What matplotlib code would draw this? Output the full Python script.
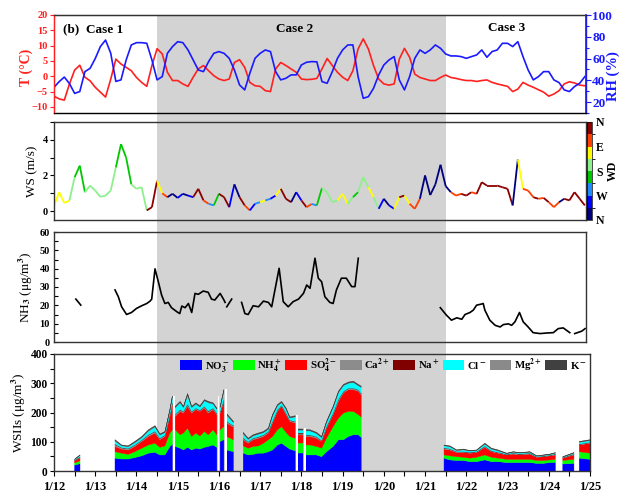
import matplotlib
matplotlib.use('Agg')
import numpy as np
import matplotlib.pyplot as plt
import matplotlib.colorbar as mcolorbar
import matplotlib.transforms as mtransforms
from matplotlib.collections import LineCollection
from matplotlib.colors import ListedColormap, BoundaryNorm
from matplotlib.patches import Rectangle, Patch
from matplotlib.ticker import MultipleLocator

plt.rcParams['font.family'] = ['Liberation Serif', 'DejaVu Serif']
plt.rcParams['font.weight'] = 'bold'
plt.rcParams['mathtext.fontset'] = 'stix'
plt.rcParams['mathtext.default'] = 'bf'

nan = np.nan

# ---- meteorology, 3-hourly from 1/12 00:00 ----
t3 = np.arange(104) * 0.125 + 12.0

temp = [-6.5, -7.4, -7.8, -2.5, 2.0, 3.6, -0.3, -1.5,
        -3.6, -5.2, -6.8, -1.0, 5.6, 4.0, 2.9, 1.8,
        -0.4, -2.0, -3.3, 3.5, 9.0, 7.3, 1.3, -1.4,
        -1.4, -2.5, -3.3, -0.3, 2.4, 3.5, 1.8, 0.2,
        -0.9, -1.4, -0.9, 4.5, 5.4, 2.9, -2.0, -3.1,
        -3.3, -4.7, -5.0, 2.4, 4.5, 3.5, 2.4, 1.3,
        -0.9, -1.1, -1.0, -0.7, 2.4, 5.8, 3.5, 1.3,
        -0.3, -1.4, 1.8, 8.9, 12.2, 8.9, 3.5, -0.9,
        -2.5, -2.9, -2.5, 5.6, 9.1, 6.2, 0.7, -0.4,
        -0.9, -1.4, -1.4, -0.4, 0.4, -0.4, -0.7, -1.1,
        -1.4, -1.4, -1.7, -1.4, -1.2, -2.0, -2.5, -2.9,
        -3.3, -5.0, -4.2, -2.0, -2.9, -3.6, -4.4, -5.2,
        -6.5, -5.8, -4.7, -2.5, -1.8, -2.2, -2.9, -3.1]

rh = [33.6, 38.8, 43.0, 37.0, 28.0, 29.7, 48.0, 51.0,
      60.0, 71.0, 77.0, 65.0, 39.0, 40.4, 58.7, 72.5,
      74.6, 74.6, 74.0, 58.7, 40.4, 43.4, 64.8, 71.0,
      75.5, 74.6, 67.9, 58.7, 49.5, 48.0, 57.2, 64.8,
      66.4, 64.8, 60.2, 49.5, 35.8, 31.2, 46.5, 60.2,
      64.8, 67.9, 66.4, 48.0, 40.4, 41.9, 45.0, 45.0,
      54.1, 56.6, 57.2, 57.0, 38.8, 37.3, 48.0, 60.2,
      67.9, 72.5, 72.5, 43.4, 23.5, 25.0, 32.7, 45.0,
      54.1, 58.7, 61.8, 40.4, 31.2, 43.4, 60.2, 67.9,
      64.8, 67.9, 72.5, 69.4, 64.2, 62.4, 62.4, 61.8,
      60.2, 61.8, 63.3, 67.9, 61.2, 66.4, 67.9, 74.0,
      74.0, 71.0, 75.5, 61.8, 49.5, 40.4, 43.4, 48.0,
      48.0, 40.4, 37.9, 31.2, 29.7, 34.3, 37.3, 43.4]

ws = [0.3, 1.06, 0.45, 0.6, 1.9, 2.55, 1.06, 1.43,
      1.15, 0.8, 0.87, 1.15, 2.45, 3.76, 3.0, 1.5,
      1.25, 1.34, 0.04, 0.22, 1.7, 1.0, 0.78, 0.97,
      0.74, 0.97, 0.87, 0.78, 1.25, 0.6, 0.41, 0.32,
      0.97, 0.78, 0.22, 1.5, 0.78, 0.32, 0.04, 0.41,
      0.5, 0.6, 0.69, 0.87, 1.25, 0.69, 0.5, 1.06,
      0.6, 0.22, 0.4, 0.32, 1.3, 1.06, 0.5, 0.6,
      0.97, 0.41, 0.78, 1.06, 1.9, 1.34, 0.78, 0.13,
      0.69, 0.32, 0.13, 0.78, 0.87, 0.41, 0.13, 0.69,
      2.0, 0.9, 1.5, 2.6, 1.4, 1.06, 0.87, 0.97,
      0.87, 1.06, 0.97, 1.62, 1.43, 1.43, 1.43, 1.34,
      1.25, 0.32, 2.9, 1.25, 1.15, 0.78, 0.69, 0.74,
      0.5, 0.22, 0.5, 0.69, 0.6, 1.06, 0.69, 0.32]

# wind direction class (0 = N ... 7 = N, colour bins of the WD bar)
wd = [5, 5, 5, 4, 3, 3, 4, 4,
      4, 4, 4, 4, 3, 3, 3, 4,
      4, 4, 7, 7, 5, 6, 0, 0,
      1, 0, 1, 7, 7, 6, 2, 3,
      7, 7, 1, 0, 7, 6, 1, 2,
      5, 2, 1, 5, 7, 7, 0, 1,
      7, 6, 2, 3, 4, 4, 4, 5,
      5, 4, 3, 4, 4, 5, 4, 1,
      0, 1, 5, 7, 5, 6, 6, 0,
      0, 0, 0, 0, 0, 6, 6, 7,
      7, 6, 7, 7, 7, 7, 7, 7,
      7, 0, 5, 6, 6, 7, 6, 7,
      6, 6, 0, 7, 7, 7, 7, 1]
wd_colors = ['#00007f', '#0000ff', '#1e8cff', '#00c800',
             '#8cf08c', '#ffff00', '#ff4000', '#8b0000']
wd_labels = ['N', 'W', 'S', 'E', 'N']

# ---- NH3 ----
t_nh3 = [12.53, 12.60, 12.65, 12.70,
         13.48, 13.56, 13.64, 13.76, 13.88, 14.00, 14.13, 14.25, 14.33, 14.37,
         14.45, 14.53, 14.61, 14.69, 14.77, 14.85, 14.98, 15.05, 15.10, 15.18,
         15.26, 15.34, 15.42, 15.50, 15.62, 15.74, 15.82, 15.90, 16.03, 16.11,
         16.15, 16.17,
         16.19, 16.31, 16.40,
         16.55, 16.63, 16.71, 16.83, 16.96, 17.08, 17.20, 17.28, 17.46, 17.56,
         17.68, 17.80, 17.93, 18.05, 18.13, 18.21, 18.33, 18.41, 18.49, 18.57,
         18.69, 18.77, 18.85, 18.97, 19.09, 19.22, 19.30, 19.38, 19.45,
         21.37, 21.52, 21.64, 21.77, 21.89, 21.97, 22.09, 22.17, 22.25, 22.37,
         22.41, 22.45, 22.57, 22.70, 22.82, 22.90, 23.02, 23.10, 23.18, 23.29,
         23.38, 23.50, 23.62, 23.79, 23.95, 24.11, 24.23, 24.35, 24.51, 24.58,
         24.63, 24.80, 24.88]
nh3 = [23.4, 21.5, 20.1, nan,
       28.4, 24.7, 19.2, 15.0, 16.1, 18.3, 19.8, 21.0, 22.3, 23.4,
       39.9, 32.9, 25.6, 21.0, 21.6, 18.7, 16.5, 15.5, 19.6, 18.7,
       21.0, 16.1, 26.5, 26.0, 27.8, 27.1, 23.4, 22.9, 26.5, 23.4,
       21.6, nan,
       19.2, 23.4, nan,
       21.6, 15.5, 15.0, 19.8, 19.2, 22.3, 21.6, 19.2, 40.2, 22.0,
       19.2, 22.0, 23.4, 26.5, 31.1, 29.3, 45.7, 34.8, 32.9, 24.7,
       21.6, 21.0, 28.4, 34.8, 34.8, 30.2, 30.2, 45.7, nan,
       18.7, 14.6, 11.9, 13.2, 12.4, 15.0, 16.1, 17.4, 20.1, 20.7,
       21.0, 17.4, 11.9, 9.1, 8.2, 9.5, 9.9, 9.1, 11.0, 16.1,
       11.0, 8.2, 5.1, 4.6, 4.9, 5.1, 7.3, 7.7, 5.1, nan,
       4.6, 5.9, 7.3]

# ---- water-soluble inorganic ions (ug/m3) ----
t_ion = [12.50, 12.63, 12.64,
         13.48, 13.64, 13.80, 13.96, 14.13, 14.29, 14.45, 14.57, 14.69, 14.81,
         14.87, 14.88,
         14.94, 15.06, 15.14, 15.24, 15.34, 15.44, 15.54, 15.65, 15.74, 15.86,
         15.95, 15.96,
         16.03, 16.12, 16.14,
         16.19, 16.35, 16.36,
         16.59, 16.71, 16.83, 16.96, 17.08, 17.20, 17.30, 17.42, 17.52, 17.63,
         17.72, 17.85, 17.86,
         17.93, 18.05, 18.06,
         18.11, 18.21, 18.37, 18.49, 18.61, 18.77, 18.90, 19.02, 19.14, 19.26,
         19.38, 19.45, 19.46,
         21.46, 21.60, 21.77, 21.93, 22.09, 22.25, 22.45, 22.61, 22.77, 22.98,
         23.14, 23.30, 23.54, 23.71, 23.87, 24.03, 24.16, 24.17,
         24.34, 24.61, 24.62,
         24.74, 25.00]
no3 = [20, 25, nan,
       44, 41, 41, 46, 52, 61, 64, 55, 55, 84,
       90, nan,
       84, 78, 72, 81, 72, 78, 75, 81, 84, 89,
       81, nan,
       101, 107, nan,
       72, 66, nan,
       61, 55, 57, 61, 61, 66, 72, 89, 95, 84,
       75, 69, nan,
       61, 61, nan,
       55, 55, 55, 49, 66, 84, 107, 107, 118, 124,
       124, 115, nan,
       44, 38, 36, 36, 32, 32, 38, 32, 32, 29,
       29, 29, 29, 26, 26, 29, 29, nan,
       24, 26, nan,
       44, 40]
nh4 = [8, 10, nan,
       22, 20, 16, 20, 26, 28, 31, 26, 31, 46,
       50, nan,
       57, 46, 58, 66, 46, 52, 45, 54, 40, 52,
       43, nan,
       40, 45, nan,
       46, 41, nan,
       25, 23, 27, 25, 34, 41, 46, 52, 57, 48,
       43, 43, nan,
       34, 34, nan,
       34, 34, 29, 29, 46, 68, 74, 91, 86, 80,
       69, 70, nan,
       11, 14, 13, 11, 12, 15, 17, 15, 12, 11,
       11, 11, 11, 10, 10, 9, 11, nan,
       12, 14, nan,
       22, 21]
so4 = [7, 10, nan,
       18, 14, 15, 18, 23, 29, 35, 26, 32, 57,
       85, nan,
       46, 80, 68, 74, 80, 80, 84, 80, 74, 69,
       69, nan,
       57, 86, nan,
       46, 43, nan,
       21, 17, 23, 26, 23, 23, 46, 63, 69, 61,
       52, 52, nan,
       29, 29, nan,
       29, 29, 28, 23, 35, 41, 57, 69, 74, 74,
       80, 75, nan,
       20, 20, 14, 16, 17, 16, 26, 19, 17, 15,
       18, 15, 18, 11, 13, 14, 15, nan,
       8, 15, nan,
       23, 34]
ca = [1, 2, nan,
      6, 4, 4, 4, 4, 5, 5, 4, 4, 4,
      5, nan,
      5, 5, 4, 6, 4, 4, 3, 5, 5, 4,
      4, nan,
      4, 5, nan,
      5, 4, nan,
      5, 4, 4, 4, 4, 4, 5, 4, 3, 4,
      3, 4, nan,
      4, 4, nan,
      4, 4, 4, 3, 4, 4, 5, 4, 4, 4,
      4, 4, nan,
      3, 3, 2, 2, 2, 2, 3, 2, 2, 1,
      2, 2, 2, 1, 1, 1, 2, nan,
      1, 2, nan,
      2, 2]
na = [1, 1, nan,
      2, 1, 1, 1, 1, 1, 1, 1, 1, 1,
      1, nan,
      1, 1, 1, 2, 1, 1, 1, 1, 2, 1,
      1, nan,
      1, 2, nan,
      1, 1, nan,
      1, 1, 1, 1, 1, 1, 1, 1, 1, 1,
      1, 1, nan,
      1, 1, nan,
      1, 1, 1, 1, 1, 1, 2, 1, 1, 1,
      1, 1, nan,
      1, 1, 1, 1, 1, 1, 1, 1, 1, 1,
      1, 1, 1, 1, 1, 1, 1, nan,
      1, 1, nan,
      1, 1]
cl = [2, 5, nan,
      11, 6, 6, 8, 8, 12, 14, 11, 8, 14,
      20, nan,
      23, 23, 14, 30, 14, 14, 11, 19, 28, 14,
      13, nan,
      14, 28, nan,
      21, 11, nan,
      14, 8, 8, 9, 8, 8, 18, 14, 9, 13,
      7, 15, nan,
      10, 10, nan,
      14, 14, 11, 9, 14, 19, 23, 20, 17, 20,
      14, 21, nan,
      7, 7, 4, 6, 4, 4, 7, 6, 5, 2,
      3, 3, 3, 1, 2, 2, 3, nan,
      1, 3, nan,
      6, 6]
mg = [0.5, 1, nan,
      1, 1, 1, 1, 1, 2, 2, 1, 1, 1,
      2, nan,
      2, 2, 1, 2, 1, 1, 1, 1, 2, 1,
      1, nan,
      1, 2, nan,
      2, 1, nan,
      2, 1, 1, 1, 1, 1, 2, 1, 1, 1,
      1, 2, nan,
      1, 1, nan,
      1, 1, 1, 1, 1, 1, 2, 1, 1, 1,
      1, 1, nan,
      1, 1, 1, 1, 1, 1, 1, 1, 1, 1,
      1, 1, 1, 1, 1, 1, 1, nan,
      1, 1, nan,
      1, 1]
k = [0.5, 1, nan,
     3, 2, 2, 3, 3, 3, 3, 3, 3, 3,
     3, nan,
     3, 3, 3, 4, 3, 3, 3, 3, 3, 3,
     3, nan,
     3, 3, nan,
     3, 3, nan,
     3, 3, 3, 3, 3, 3, 3, 3, 3, 3,
     3, 3, nan,
     3, 3, nan,
     3, 3, 3, 3, 3, 3, 3, 3, 3, 3,
     3, 3, nan,
     2, 2, 1, 2, 1, 1, 2, 2, 2, 1,
     1, 1, 1, 1, 1, 1, 1, nan,
     1, 1, nan,
     2, 2]
ion_names = ['NO$_3^-$', 'NH$_4^+$', 'SO$_4^{2-}$', 'Ca$^{2+}$',
             'Na$^+$', 'Cl$^-$', 'Mg$^{2+}$', 'K$^-$']
ion_colors = ['#0000ff', '#00ff00', '#ff0000', '#8c8c8c',
              '#800000', '#00ffff', '#8a8a8a', '#404040']

# missing samples drawn as white strips
gap_days = [14.905, 15.99, 16.165, 17.89, 18.08]
gap_tops = [256, 256, 280, 193, 147]

day_ticks = list(range(12, 26))
day_labels = ['1/%d' % d for d in day_ticks]

# ---------------- figure ----------------
W, H = 620, 503
fig = plt.figure(figsize=(W / 100, H / 100), dpi=100)


def px_axes(l, t, r, b):
    return fig.add_axes([l / W, 1 - b / H, (r - l) / W, (b - t) / H])


ax1 = px_axes(54, 15, 586, 113)
ax2 = px_axes(54, 122, 586, 220)
ax3 = px_axes(54, 232, 586, 342)
ax4 = px_axes(54, 354, 590, 471)
cax = px_axes(587, 122, 592, 220)

edge = '#333333'
for ax in (ax1, ax2, ax3, ax4):
    ax.patch.set_facecolor('none')
    for s in ax.spines.values():
        s.set_color(edge)
        s.set_linewidth(1.0)
for ax in (ax1, ax2, ax3):
    ax.set_xlim(12, 12 + 532 / 41.23)
    ax.set_xticks([])
ax4.set_xlim(12, 25)

# shaded Case 2 period across all panels
blend = mtransforms.blended_transform_factory(ax4.transData, fig.transFigure)
fig.add_artist(Rectangle((14.5, 1 - 471 / H), 7.0, (471 - 15) / H,
                         transform=blend, facecolor='#d3d3d3',
                         edgecolor='none', zorder=-1))

# panel 1: T and RH
ax1.plot(t3, temp, color='#ff2020', lw=1.2)
ax1.set_ylim(-12, 20)
ax1.yaxis.set_major_locator(MultipleLocator(5))
ax1.tick_params(axis='y', colors='#ff2020', labelsize=7.5, direction='out',
                length=3, width=0.8, pad=1.5)
ax1.spines['left'].set_color('#ff2020')
ax1r = ax1.twinx()
ax1r.plot(t3, rh, color='#1a1aff', lw=1.2)
ax1r.set_ylim(10, 100)
ax1r.yaxis.set_major_locator(MultipleLocator(20))
ax1r.yaxis.set_minor_locator(MultipleLocator(10))
ax1r.tick_params(axis='y', which='both', colors='#1a1aff', labelsize=9.5,
                 direction='out', width=0.8, pad=1)
ax1r.tick_params(axis='y', which='major', length=3.5)
ax1r.tick_params(axis='y', which='minor', length=2)
ax1r.spines['right'].set_color('#1a1aff')
ax1r.spines['right'].set_linewidth(1.2)
ax1r.spines['left'].set_color('#ff2020')
ax1r.spines['top'].set_color(edge)
fig.text(26 / W, 1 - 67 / H, 'T (\u00b0C)', color='#ff2020', fontsize=10,
         rotation=90, ha='center', va='center')
fig.text(613 / W, 1 - 76 / H, 'RH (%)', color='#1a1aff', fontsize=10.5,
         rotation=90, ha='center', va='center')
fig.text(63 / W, 1 - 29 / H, '(b)  Case 1', fontsize=9.5, ha='left', va='center')
fig.text(295 / W, 1 - 29 / H, 'Case 2', fontsize=9.5, ha='center', va='center')
fig.text(507 / W, 1 - 28 / H, 'Case 3', fontsize=9.5, ha='center', va='center')

# panel 2: WS coloured by WD
cmap = ListedColormap(wd_colors)
pts = np.column_stack([t3, ws])
segs = np.stack([pts[:-1], pts[1:]], axis=1)
lc = LineCollection(segs, colors=[wd_colors[c] for c in wd[:-1]], linewidths=1.3)
ax2.add_collection(lc)
ax2.set_ylim(-0.5, 5)
ax2.yaxis.set_major_locator(MultipleLocator(2))
ax2.yaxis.set_minor_locator(MultipleLocator(1))
ax2.tick_params(axis='y', which='both', labelsize=7.5, direction='out',
                width=0.8, pad=1.5)
ax2.tick_params(axis='y', which='major', length=3)
ax2.tick_params(axis='y', which='minor', length=3)
ax2.set_ylabel('WS (m/s)', fontsize=9.5, labelpad=3)
cb = mcolorbar.ColorbarBase(cax, cmap=cmap, norm=BoundaryNorm(np.arange(9), 8),
                            orientation='vertical')
cb.set_ticks([0, 2, 4, 6, 8])
cb.set_ticklabels(wd_labels)
cb.outline.set_linewidth(0.5)
cax.tick_params(length=0, labelsize=8.5, pad=3)
fig.text(613 / W, 1 - 171 / H, 'WD', fontsize=8.5, rotation=90,
         ha='center', va='center')

# panel 3: NH3
ax3.plot(t_nh3, nh3, color='black', lw=1.2)
ax3.set_ylim(0, 60)
ax3.yaxis.set_major_locator(MultipleLocator(10))
ax3.yaxis.set_minor_locator(MultipleLocator(5))
ax3.tick_params(axis='y', which='both', labelsize=7.5, direction='in',
                length=3, width=0.8, pad=3)
ax3.set_ylabel('NH$_3$ (\u03bcg/m$^3$)', fontsize=9.5, labelpad=3)

# panel 4: stacked ions
layers = [no3, nh4, so4, ca, na, cl, mg, k]
base = np.zeros(len(t_ion))
for vals, c in zip(layers, ion_colors):
    top = base + np.array(vals, dtype=float)
    ax4.fill_between(t_ion, base, top, facecolor=c, edgecolor=c, lw=0.3)
    base = top
ax4.bar(gap_days, gap_tops, width=0.045, color='white', lw=0)
ax4.set_ylim(0, 400)
ax4.yaxis.set_major_locator(MultipleLocator(100))
ax4.yaxis.set_minor_locator(MultipleLocator(50))
ax4.set_xticks(day_ticks)
ax4.set_xticklabels(day_labels)
ax4.xaxis.set_minor_locator(MultipleLocator(0.5))
ax4.tick_params(axis='y', which='both', labelsize=8.3, direction='out',
                length=3, width=0.8, pad=1.5)
ax4.tick_params(axis='x', which='both', labelsize=9, direction='out',
                length=3.5, width=0.8, pad=4)
ax4.set_ylabel('WSIIs (\u03bcg/m$^3$)', fontsize=9.5, labelpad=2)
handles = [Patch(facecolor=c, edgecolor='none') for c in ion_colors]
ax4.legend(handles, ion_names, ncol=8, loc='upper left',
           bbox_to_anchor=(0.236, 0.975), frameon=False, fontsize=7.8,
           handlelength=2.0, handleheight=1.0, handletextpad=0.25,
           columnspacing=0.3, borderpad=0, borderaxespad=0)

fig.savefig('out.png', dpi=100)
